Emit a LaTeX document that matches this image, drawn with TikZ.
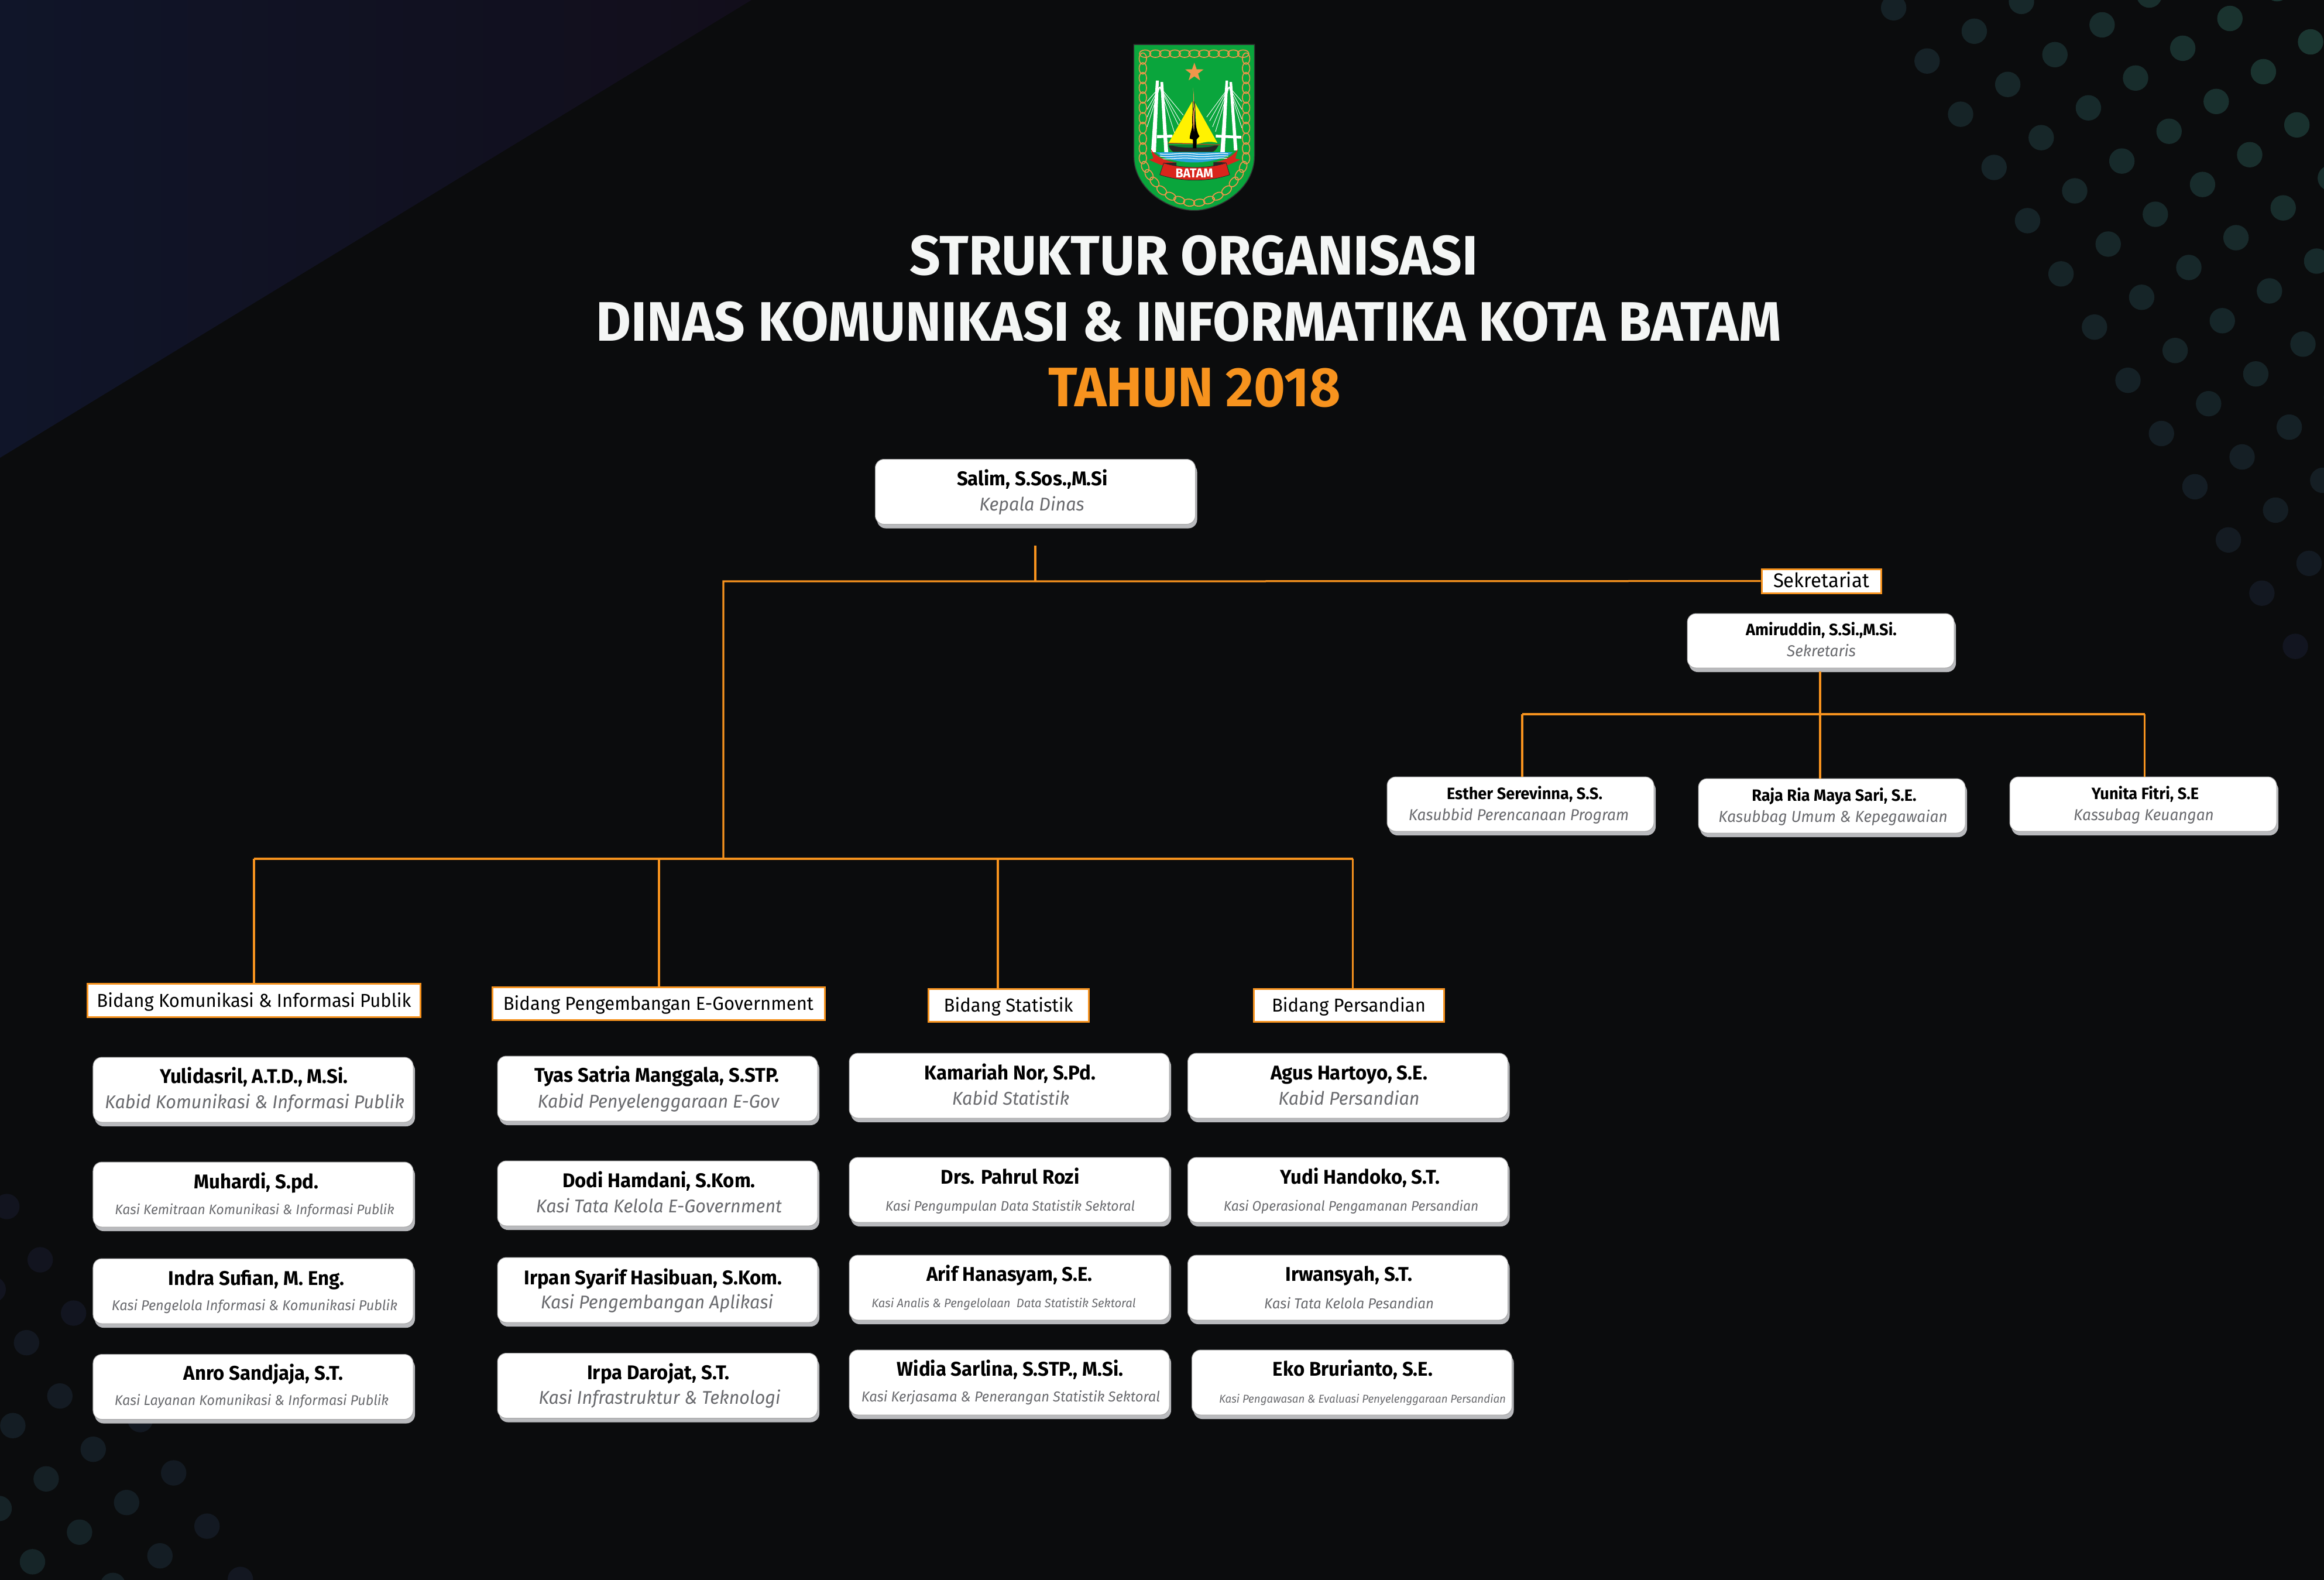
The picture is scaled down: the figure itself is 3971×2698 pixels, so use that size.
\documentclass[tikz,border=0pt]{standalone}
\usepackage{xcolor}
\usepackage{fontspec}
\setmainfont{Fira Sans}[FakeStretch=0.97]
\usepackage{tikz}
\usetikzlibrary{shadows}

\definecolor{pagedark}{RGB}{11,12,13}
\definecolor{navyleft}{RGB}{16,21,41}
\definecolor{navyright}{RGB}{18,14,27}
\definecolor{dotteal}{RGB}{27,56,50}
\definecolor{dotnavy}{RGB}{18,20,31}
\definecolor{orgorange}{RGB}{247,147,30}
\definecolor{cardshade}{RGB}{185,186,189}
\definecolor{rolegray}{RGB}{105,106,110}
\definecolor{titlewhite}{RGB}{244,246,245}
\definecolor{logogreen}{RGB}{10,165,60}
\definecolor{logochain}{RGB}{240,150,75}
\definecolor{logored}{RGB}{217,37,28}
\definecolor{logoblue}{RGB}{40,160,220}

\tikzset{
  cardbox/.style={draw=gray!70,line width=0.2pt,fill=white,rounded corners=3pt,minimum width=109.4pt,minimum height=22.2pt,inner sep=0pt,general shadow={fill=cardshade,shadow xshift=0.6pt,shadow yshift=-1.4pt}},
  cardsmall/.style={cardbox,minimum width=91.2pt,minimum height=18.6pt},
  nametext/.style={anchor=base,inner sep=0pt,text=black,font=\fontsize{6.8}{8}\selectfont\bfseries},
  namesmall/.style={nametext,font=\fontsize{5.6}{7}\selectfont\bfseries},
  roletext/.style={anchor=base,inner sep=0pt,text=rolegray,font=\fontsize{6.3}{7}\selectfont\itshape},
  rolemid/.style={roletext,font=\fontsize{5.4}{6}\selectfont\itshape},
  rolesmall/.style={roletext,font=\fontsize{4.7}{6}\selectfont\itshape},
  bidanglabel/.style={draw=orgorange,line width=0.6pt,fill=white,inner sep=0pt,text=black,minimum height=11.3pt,text height=5.4pt,text depth=1pt,font=\fontsize{6.4}{8}\selectfont},
  orgline/.style={draw=orgorange,line width=0.65pt},
  titletext/.style={anchor=base,inner sep=0pt,text=titlewhite,font=\fontsize{19}{22}\selectfont\bfseries},
  chainlink/.style={draw=logochain,line width=0.33pt},
  cableline/.style={draw=white,line width=0.18pt}
}

\begin{document}
\begin{tikzpicture}[x=0.2pt,y=0.2pt,yscale=-1,xscale=1]
        \useasboundingbox (0,0) rectangle (3971,2698);
        \fill [pagedark] (-20,-20) rectangle (3991,2718);
        \shade [left color=navyleft,right color=navyright] (0,0) -- (1284,0) -- (0,782) -- cycle;

        \foreach \i in {-8,...,13} \foreach \j in {0,...,6} {
          \pgfmathsetmacro\dotx{3235.6+57.2*\i+137.8*\j}
          \pgfmathsetmacro\doty{13.3+90.9*\i+40*\j}
          \pgfmathtruncatemacro\inrange{and(and(\dotx<3995,\doty>-25),\doty<1125)}
          \ifnum\inrange=1
            \pgfmathsetmacro\dott{max(0,100*(1-veclen(\dotx-3971,\doty)/1150))}
            \fill [dotteal!\dott!dotnavy] (\dotx,\doty) circle [radius=21.7];
          \fi
        }
        \foreach \k in {0,...,3} \foreach \i in {-1,...,8} {
          \pgfmathsetmacro\dotx{11.7+57*\i-23.4*\k}
          \pgfmathsetmacro\doty{2061+91*\i+141.6*\k}
          \pgfmathtruncatemacro\inrange{and(\dotx>-25,\doty<2722)}
          \ifnum\inrange=1
            \pgfmathsetmacro\dott{max(0,55*(1-veclen(\dotx,\doty-2698)/500))}
            \fill [dotteal!\dott!dotnavy] (\dotx,\doty) circle [radius=21.7];
          \fi
        }

        \begin{scope}[shift={(1800,40)},x=0.0667pt,y=0.0667pt]
          \draw [fill=logogreen,draw=black!80,line width=0.3pt] (412,108) -- (1030,108) -- (1030,680) .. controls (1030,850) and (850,958) .. (721,958) .. controls (590,958) and (412,850) .. (412,680) -- cycle;
          \foreach \px in {470,522,572,622,672,722,772,822,872,922,972}
            \draw [chainlink] (\px,155) ellipse [x radius=29,y radius=19];
          \foreach \py in {180,230,280,330,380,432,485,535,590,640,690} {
            \draw [chainlink] (458,\py) ellipse [x radius=19,y radius=29];
            \draw [chainlink] (987,\py) ellipse [x radius=19,y radius=29];
          }
          \foreach \px/\py/\pa in {470/735/70,490/775/60,518/812/50,555/855/40,600/885/25,645/905/18,695/918/6,747/918/-6,797/905/-18,842/885/-25,887/855/-40,924/812/-50,952/775/-60,972/735/-70}
            \draw [chainlink,rotate around={\pa:(\px,\py)}] (\px,\py) ellipse [x radius=29,y radius=18];
          \fill [logochain] (722,201) -- (733.8,234.8) -- (769.6,235.5) -- (741,257) -- (751.4,291.5) -- (722,271) -- (692.6,291.5) -- (703,257) -- (674.4,235.5) -- (710.2,234.8) -- cycle;
          \foreach \tx/\ty in {480/400,480/440,480/480,480/530,665/470,650/500,640/520,620/560}
            \draw [cableline] (545,325) -- (\tx,\ty);
          \foreach \tx/\ty in {785/480,800/500,815/530,830/555,965/400,965/440,965/490,965/535}
            \draw [cableline] (900,325) -- (\tx,\ty);
          \fill [white] (530,572) -- (610,570) -- (610,584) -- (530,588) -- cycle;
          \fill [white] (832,570) -- (962,576) -- (962,590) -- (832,584) -- cycle;
          \fill [white] (525,293) -- (540,293) -- (525,660) -- (500,660) -- cycle;
          \fill [white] (548,300) -- (562,300) -- (588,660) -- (568,660) -- cycle;
          \fill [white] (882,293) -- (895,293) -- (878,660) -- (855,660) -- cycle;
          \fill [white] (902,300) -- (915,300) -- (943,650) -- (925,650) -- cycle;
          \fill [yellow] (712,398) -- (590,612) -- (716,614) -- cycle;
          \fill [yellow] (726,408) -- (840,612) .. controls (800,600) and (760,610) .. (735,620) -- cycle;
          \fill [black!85] (590,625) -- (845,625) .. controls (835,645) and (825,658) .. (810,658) -- (615,658) .. controls (600,650) and (595,640) .. (590,625) -- cycle;
          \fill [logogreen!80!black] (610,625) -- (825,625) .. controls (800,640) and (640,640) .. (610,625) -- cycle;
          \draw [logored,line width=0.2pt] (585,613) -- (855,622);
          \fill [black] (714,400) .. controls (720,440) and (706,470) .. (712,520) .. controls (708,550) and (698,570) .. (698,590) -- (715,595) -- (715,640) -- (733,640) -- (733,595) -- (748,578) .. controls (735,560) and (730,520) .. (727,500) .. controls (724,460) and (728,430) .. (722,400) -- cycle;
          \fill [logochain] (714,330) .. controls (722,370) and (712,400) .. (719,440) .. controls (712,470) and (714,510) .. (720,555) .. controls (724,510) and (720,470) .. (725,440) .. controls (716,400) and (724,370) .. (714,330) -- cycle;
          \fill [logoblue] (525,660) -- (918,660) .. controls (890,690) and (800,712) .. (722,712) .. controls (640,712) and (550,690) .. (525,660) -- cycle;
          \foreach \wy in {668,680,692}
            \draw [white,line width=0.25pt] (545,\wy) .. controls (600,\wy+8) and (640,\wy-8) .. (720,\wy) .. controls (780,\wy+8) and (840,\wy-8) .. (895,\wy);
          \fill [logored] (498,642) .. controls (520,680) and (570,705) .. (630,712) -- (630,735) -- (550,725) -- (488,698) -- (512,692) -- cycle;
          \fill [logored] (946,642) .. controls (924,680) and (874,705) .. (820,712) -- (820,735) -- (895,725) -- (958,698) -- (932,692) -- cycle;
          \fill [black!85] (565,715) -- (630,712) -- (630,735) -- cycle;
          \fill [black!85] (885,712) -- (820,710) -- (820,735) -- cycle;
          \draw [fill=logored,draw=black!85,line width=0.15pt] (565,715) .. controls (660,745) and (790,745) .. (885,715) -- (903,775) .. controls (800,812) and (650,812) .. (545,775) -- cycle;
          \node (logoText) at (722,768) [inner sep=0pt,text=white,font=\fontsize{4.4}{5}\selectfont\bfseries] {BATAM};
        \end{scope}

        \node (titleOne) at (2040,469) [titletext] {STRUKTUR ORGANISASI};
        \node (titleTwo) at (2031,582) [titletext] {DINAS KOMUNIKASI \& INFORMATIKA KOTA BATAM};
        \node (titleThree) at (2041,694) [titletext,text=orgorange] {TAHUN 2018};

        \node (kepala) at (1769,840) [cardbox] {};
        \node (kepalaName) at (1764,829) [nametext] {Salim, S.Sos.,M.Si};
        \node (kepalaRole) at (1763,872) [roletext] {Kepala Dinas};

        \node (labelSek) at (3112,992.5) [bidanglabel,minimum width=40.8pt,minimum height=8.2pt,font=\fontsize{6.8}{8}\selectfont] {Sekretariat};
        \node (amir) at (3111,1094.5) [cardsmall] {};
        \node (amirName) at (3112,1085) [namesmall] {Amiruddin, S.Si.,M.Si.};
        \node (amirRole) at (3112,1121.7) [rolemid] {Sekretaris};
        \node (esther) at (2598,1373.5) [cardsmall] {};
        \node (estherName) at (2605,1365) [namesmall] {Esther Serevinna, S.S.};
        \node (estherRole) at (2595,1401) [rolemid] {Kasubbid Perencanaan Program};
        \node (raja) at (3130,1376.5) [cardsmall] {};
        \node (rajaName) at (3134,1368) [namesmall] {Raja Ria Maya Sari, S.E.};
        \node (rajaRole) at (3132,1404) [rolemid] {Kasubbag Umum \& Kepegawaian};
        \node (yunita) at (3662,1373.5) [cardsmall] {};
        \node (yunitaName) at (3665.5,1365) [namesmall] {Yunita Fitri, S.E};
        \node (yunitaRole) at (3663,1401) [rolemid] {Kassubag Keuangan};

        \node (labelKom) at (434,1709) [bidanglabel,minimum width=113.6pt] {Bidang Komunikasi \& Informasi Publik};
        \node (labelGov) at (1125,1714.7) [bidanglabel,minimum width=113.6pt] {Bidang Pengembangan E-Government};
        \node (labelStat) at (1723,1717.5) [bidanglabel,minimum width=54.8pt] {Bidang Statistik};
        \node (labelPers) at (2304.5,1717.5) [bidanglabel,minimum width=65pt] {Bidang Persandian};

        \node (komA) at (432.5,1861.5) [cardbox] {};
        \node (komAName) at (434,1850) [nametext] {Yulidasril, A.T.D., M.Si.};
        \node (komARole) at (435,1893.5) [roletext] {Kabid Komunikasi \& Informasi Publik};
        \node (komB) at (432.5,2040.5) [cardbox] {};
        \node (komBName) at (438,2030) [nametext] {Muhardi, S.pd.};
        \node (komBRole) at (435,2074) [rolesmall] {Kasi Kemitraan Komunikasi \& Informasi Publik};
        \node (komC) at (432.5,2205.5) [cardbox] {};
        \node (komCName) at (438,2195) [nametext] {Indra Sufian, M. Eng.};
        \node (komCRole) at (435,2238) [rolesmall,font=\fontsize{4.85}{6}\selectfont\itshape] {Kasi Pengelola Informasi \& Komunikasi Publik};
        \node (komD) at (432.5,2369) [cardbox] {};
        \node (komDName) at (450,2357.5) [nametext] {Anro Sandjaja, S.T.};
        \node (komDRole) at (430,2400.5) [rolesmall,font=\fontsize{4.8}{6}\selectfont\itshape] {Kasi Layanan Komunikasi \& Informasi Publik};

        \node (govA) at (1123.5,1859.5) [cardbox] {};
        \node (govAName) at (1122.5,1848) [nametext] {Tyas Satria Manggala, S.STP.};
        \node (govARole) at (1125,1892) [roletext] {Kabid Penyelenggaraan E-Gov};
        \node (govB) at (1123.5,2038.5) [cardbox] {};
        \node (govBName) at (1126,2028) [nametext] {Dodi Hamdani, S.Kom.};
        \node (govBRole) at (1126,2071) [roletext] {Kasi Tata Kelola E-Government};
        \node (govC) at (1123.5,2203.5) [cardbox] {};
        \node (govCName) at (1116,2194) [nametext] {Irpan Syarif Hasibuan, S.Kom.};
        \node (govCRole) at (1122.5,2235) [roletext] {Kasi Pengembangan Aplikasi};
        \node (govD) at (1123.5,2367) [cardbox] {};
        \node (govDName) at (1125,2356.5) [nametext] {Irpa Darojat, S.T.};
        \node (govDRole) at (1127,2398.5) [roletext] {Kasi Infrastruktur \& Teknologi};

        \node (statA) at (1724.5,1854.5) [cardbox] {};
        \node (statAName) at (1726,1844) [nametext] {Kamariah Nor, S.Pd.};
        \node (statARole) at (1727,1887) [roletext] {Kabid Statistik};
        \node (statB) at (1724.5,2032.5) [cardbox] {};
        \node (statBName) at (1726,2022) [nametext] {Drs. Pahrul Rozi};
        \node (statBRole) at (1726,2068) [rolesmall] {Kasi Pengumpulan Data Statistik Sektoral};
        \node (statC) at (1724.5,2199.5) [cardbox] {};
        \node (statCName) at (1725,2188) [nametext] {Arif Hanasyam, S.E.};
        \node (statCRole) at (1715,2233) [rolesmall,font=\fontsize{4.17}{5}\selectfont\itshape] {Kasi Analis \& Pengelolaan\ \ Data Statistik Sektoral};
        \node (statD) at (1724.5,2361.5) [cardbox] {};
        \node (statDName) at (1726,2350) [nametext] {Widia Sarlina, S.STP., M.Si.};
        \node (statDRole) at (1727,2394) [rolesmall,font=\fontsize{4.9}{6}\selectfont\itshape] {Kasi Kerjasama \& Penerangan Statistik Sektoral};

        \node (persA) at (2303,1854.5) [cardbox] {};
        \node (persAName) at (2305,1844) [nametext] {Agus Hartoyo, S.E.};
        \node (persARole) at (2305,1887) [roletext] {Kabid Persandian};
        \node (persB) at (2303,2032.5) [cardbox] {};
        \node (persBName) at (2324,2022) [nametext] {Yudi Handoko, S.T.};
        \node (persBRole) at (2308.5,2068) [rolesmall] {Kasi Operasional Pengamanan Persandian};
        \node (persC) at (2303,2199.5) [cardbox] {};
        \node (persCName) at (2305,2188) [nametext] {Irwansyah, S.T.};
        \node (persCRole) at (2305,2235) [rolesmall,font=\fontsize{4.95}{6}\selectfont\itshape] {Kasi Tata Kelola Pesandian};
        \node (persD) at (2310,2361.5) [cardbox] {};
        \node (persDName) at (2311.5,2350) [nametext] {Eko Brurianto, S.E.};
        \node (persDRole) at (2328,2396) [rolesmall,font=\fontsize{3.86}{5}\selectfont\itshape] {Kasi Pengawasan \& Evaluasi Penyelenggaraan Persandian};

        \coordinate (kepalaStub) at (1769,932);
        \coordinate (kepalaJoin) at (1769,993);
        \coordinate (leftCorner) at (1236,993);
        \coordinate (busJoin) at (1236,1467);
        \coordinate (busKom) at (434,1467);
        \coordinate (busGov) at (1126,1467);
        \coordinate (busStat) at (1705,1467);
        \coordinate (busPers) at (2311.5,1467);
        \coordinate (amirStub) at (3110,1147);
        \coordinate (amirJoin) at (3110,1220);
        \coordinate (amirLeft) at (2601,1220);
        \coordinate (amirRight) at (3664.5,1220);

        \draw [orgline] (kepalaStub) -- (kepalaJoin);
        \draw [orgline] (labelSek.west) -- (kepalaJoin) -- (leftCorner) -- (busJoin);
        \draw [orgline] (busKom) -- (busPers);
        \draw [orgline] (busKom) -- (busKom |- labelKom.north);
        \draw [orgline] (busGov) -- (busGov |- labelGov.north);
        \draw [orgline] (busStat) -- (busStat |- labelStat.north);
        \draw [orgline] (busPers) -- (busPers |- labelPers.north);
        \draw [orgline] (amirStub) -- (amirJoin);
        \draw [orgline] (amirLeft) -- (amirRight);
        \draw [orgline] (amirLeft) -- (amirLeft |- esther.north);
        \draw [orgline] (amirJoin) -- (amirJoin |- raja.north);
        \draw [orgline] (amirRight) -- (amirRight |- yunita.north);
\end{tikzpicture}
\end{document}
